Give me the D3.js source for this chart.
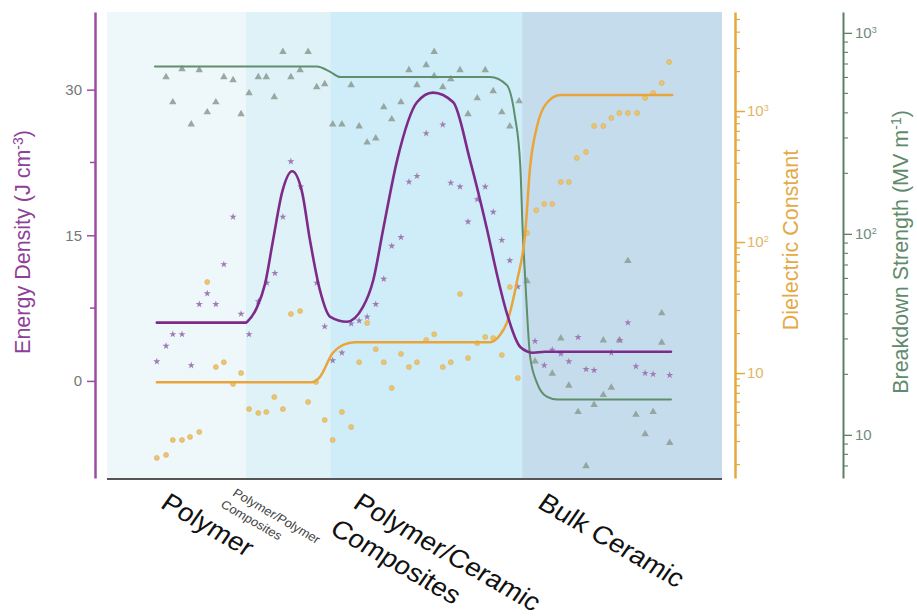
<!DOCTYPE html>
<html>
<head>
<meta charset="utf-8">
<script src="https://cdn.jsdelivr.net/npm/d3@7/dist/d3.min.js"></script>
<style>
  html, body { margin: 0; padding: 0; background: #ffffff; }
  svg { display: block; font-family: "Liberation Sans", Arial, sans-serif; }
</style>
</head>
<body>
<svg id="chart" width="917" height="616"></svg>
<script>
// ---------------- DATA ----------------
// material classes along the (arbitrary) composition axis 0..100
const regions = [
  { name: "Polymer", start: 0, end: 22.6 },
  { name: "Polymer/Polymer Composites", start: 22.6, end: 36.3 },
  { name: "Polymer/Ceramic Composites", start: 36.3, end: 67.5 },
  { name: "Bulk Ceramic", start: 67.5, end: 100 }
];
const regionLabelLines = [["Polymer"], ["Polymer/Polymer", "Composites"], ["Polymer/Ceramic", "Composites"], ["Bulk Ceramic"]];

// axis ticks
const energyTicks = [0, 15, 30];
const energyMinorTicks = [7.5, 22.5];
const dielectricTicks = [10, 100, 1000];
const breakdownTicks = [10, 100, 1000];

// energy density scatter (J cm^-3)
const energyX = [8.1, 9.6, 10.7, 12.2, 13.7, 15.0, 16.3, 17.7, 19.0, 20.5, 21.8, 23.1, 24.6, 26.0, 27.3, 28.6, 29.9, 31.5, 34.1, 35.4, 36.7, 38.2, 39.7, 41.0, 42.3, 43.7, 45.0, 46.3, 47.8, 49.1, 50.4, 51.9, 54.6, 55.9, 57.4, 58.7, 60.2, 61.5, 62.8, 64.2, 65.5, 66.8, 69.6, 71.1, 72.4, 73.8, 75.1, 76.6, 77.9, 79.2, 82.0, 83.4, 84.7, 86.0, 87.5, 88.8, 91.5];
const energyY = [2.0, 3.6, 4.8, 4.8, 1.6, 7.9, 9.0, 7.9, 12.0, 16.9, 6.9, 4.8, 8.2, 10.1, 11.1, 16.9, 22.6, 20.0, 10.1, 5.6, 2.1, 2.9, 5.9, 6.2, 6.6, 7.9, 10.5, 13.9, 14.8, 20.5, 21.1, 25.5, 26.4, 20.4, 20.0, 16.4, 18.7, 20.0, 17.4, 14.5, 12.4, 9.7, 4.1, 1.6, 3.2, 2.8, 2.0, 4.5, 1.2, 1.1, 2.9, 4.2, 6.0, 1.5, 0.8, 0.7, 0.6];

// dielectric constant scatter
const dielectricX = [8.1, 9.6, 10.7, 12.2, 13.5, 15.0, 16.3, 17.7, 19.0, 20.5, 21.8, 23.1, 24.6, 25.9, 27.2, 28.6, 29.9, 31.4, 32.7, 34.0, 35.4, 36.7, 38.2, 39.7, 41.0, 42.3, 43.7, 45.0, 46.3, 47.8, 49.1, 50.4, 51.9, 53.2, 54.6, 55.9, 57.4, 58.7, 60.2, 61.5, 62.8, 64.2, 65.5, 66.8, 68.3, 69.8, 71.1, 72.4, 73.8, 75.1, 76.4, 77.9, 79.2, 80.7, 82.0, 83.3, 84.7, 86.2, 87.5, 88.8, 90.2, 91.4];
const dielectricY = [2.25, 2.37, 3.08, 3.08, 3.25, 3.55, 49.5, 11.1, 12.1, 8.24, 10.0, 5.31, 4.95, 5.04, 6.56, 5.31, 28.2, 29.7, 6.01, 8.53, 4.38, 3.08, 5.04, 3.87, 12.1, 24.1, 15.2, 12.1, 7.68, 14.0, 11.1, 12.1, 17.9, 19.8, 11.1, 12.1, 40.1, 13.0, 16.9, 18.8, 18.5, 13.7, 45.3, 9.16, 117, 175, 195, 195, 287, 287, 438, 486, 768, 768, 885, 966, 966, 966, 1257, 1372, 1637, 2366];

// breakdown strength scatter (MV m^-1)
const breakdownX = [9.6, 10.7, 12.2, 13.7, 15.0, 16.3, 17.7, 19.0, 20.5, 21.8, 23.1, 24.6, 25.9, 27.2, 28.6, 29.9, 31.4, 32.7, 34.1, 35.4, 36.7, 38.2, 39.7, 41.0, 42.3, 43.7, 45.0, 46.3, 47.8, 49.1, 50.4, 51.9, 53.2, 53.2, 54.6, 55.9, 57.4, 58.7, 60.2, 61.5, 62.8, 64.2, 65.5, 67.0, 68.3, 69.6, 72.4, 73.8, 75.1, 76.6, 77.9, 79.2, 80.7, 80.7, 82.0, 83.3, 84.7, 86.0, 87.5, 88.8, 90.2, 90.2, 91.5];
const breakdownY = [603, 452, 661, 351, 653, 403, 452, 603, 582, 394, 501, 603, 603, 479, 804, 603, 653, 804, 537, 556, 351, 351, 550, 343, 285, 299, 427, 372, 452, 653, 550, 692, 804, 610, 537, 589, 653, 394, 473, 653, 513, 403, 343, 457, 58.2, 23.2, 20.2, 30.2, 17.6, 13.0, 7.0, 14.1, 29.5, 15.8, 17.2, 29.5, 73.3, 12.6, 10.1, 13.0, 40.3, 28.8, 9.12];

// trend curves
const energyFitX = [8.1, 22.6, 22.8, 24.4, 25.7, 27.0, 28.5, 30.1, 31.7, 33.0, 34.6, 36.3, 39.0, 41.6, 43.3, 44.9, 47.2, 50.4, 53.0, 56.3, 59.0, 61.8, 63.4, 65.0, 67.2, 69.3, 71.2, 91.7];
const energyFitY = [6.0, 6.0, 6.1, 7.6, 10.0, 14.5, 19.5, 21.6, 19.5, 14.5, 9.4, 6.6, 6.1, 7.6, 10.4, 15.6, 22.8, 28.7, 29.7, 28.7, 22.8, 15.6, 11.0, 7.0, 3.5, 2.9, 3.0, 3.0];
const dielectricFitX = [8.1, 33.3, 34.6, 36.7, 38.4, 40.3, 62.3, 63.9, 65.0, 66.7, 68.0, 68.8, 69.9, 71.5, 73.7, 91.9];
const dielectricFitY = [8.5, 8.5, 9.3, 14.2, 16.4, 17.2, 17.2, 19.5, 24.1, 51, 117, 374, 755, 1151, 1324, 1324];
const breakdownFitX = [7.8, 34.1, 36.3, 37.9, 62.3, 65.0, 66.3, 67.2, 67.6, 68.0, 68.8, 69.9, 71.5, 73.2, 91.7];
const breakdownFitY = [680, 680, 640, 603, 603, 550, 389, 219, 102, 60, 24.5, 18.2, 15.5, 15.0, 15.0];

// ---------------- LAYOUT ----------------
const L = 107, R = 722, T = 12, B = 478;
const regionColors = ["#eef8fa", "#def2f8", "#ceedf8", "#c4dcec"];
const labelOffsets = [8.5, -2.3, 3.5, 2.3];
const labelSmall = [false, true, false, false];
const PURPLE_AX = "#9a4ca2", PURPLE_LN = "#7d2a88", PURPLE_PT = "#a07ab4";
const ORANGE_AX = "#e3a93c", ORANGE_LN = "#e9a53c", ORANGE_PT = "#ecc36e";
const GREEN_AX = "#5c7f67", GREEN_LN = "#5e8e6c", GREEN_PT = "#909e97";

const svg = d3.select("#chart");
const x = d3.scaleLinear().domain([0, 100]).range([L, R]);
const yE = d3.scaleLinear().domain([-10, 38]).range([B, T]);
const yD = d3.scaleLog().domain([1.58, 5700]).range([B, T]);
const yB = d3.scaleLog().domain([6.1, 1270]).range([B, T]);

// region backgrounds
svg.append("g").selectAll("rect").data(regions).join("rect")
  .attr("x", d => x(d.start)).attr("y", T)
  .attr("width", d => x(d.end) - x(d.start)).attr("height", B - T)
  .attr("fill", (d, i) => regionColors[i]);

// bottom axis line
svg.append("line").attr("x1", L).attr("x2", R).attr("y1", B + 1).attr("y2", B + 1)
  .attr("stroke", "#555").attr("stroke-width", 2);

// region labels (slightly stretched horizontally, as in the source figure)
regions.forEach((r, i) => {
  const small = labelSmall[i];
  const fs = small ? 12 : 25.5;
  const ax = x(r.start + labelOffsets[i]);
  const ay = small ? 495 : 507;
  const t = svg.append("text")
    .attr("transform", `translate(${ax},${ay}) scale(1.1,1) rotate(32.5)`)
    .attr("font-size", fs).attr("fill", small ? "#444" : "#111");
  regionLabelLines[i].forEach((line, j) => {
    t.append("tspan").attr("x", j === 0 ? 0 : (small ? -3 : -4)).attr("dy", j === 0 ? 0 : fs * 1.3).text(line);
  });
});

// ---- left axis: energy density
const gE = svg.append("g").attr("transform", "translate(95,0)");
gE.call(d3.axisLeft(yE).tickValues(energyTicks).tickSize(8).tickSizeOuter(0).tickPadding(5));
gE.select(".domain").attr("stroke", PURPLE_AX).attr("stroke-width", 2.5);
gE.selectAll(".tick line").attr("stroke", PURPLE_AX).attr("stroke-width", 1.5);
gE.selectAll(".tick text").attr("font-size", 15).attr("fill", "#777").attr("font-family", "Liberation Sans, Arial, sans-serif");
gE.selectAll(".minor").data(energyMinorTicks).join("line")
  .attr("x1", -5).attr("x2", 0).attr("y1", d => yE(d)).attr("y2", d => yE(d))
  .attr("stroke", PURPLE_AX).attr("stroke-width", 1.5);

// log-axis helpers
function minorLogTicks(scale) {
  const [a, b] = scale.domain();
  const out = [];
  for (let e = Math.floor(Math.log10(a)); e <= Math.ceil(Math.log10(b)); e++) {
    for (let m = 2; m <= 9; m++) {
      const v = m * Math.pow(10, e);
      if (v >= a && v <= b) out.push(v);
    }
  }
  return out;
}
function powLabel(sel, col) {
  sel.each(function(d) {
    const t = d3.select(this);
    t.text(null);
    const e = Math.round(Math.log10(d));
    t.append("tspan").text("10");
    if (e > 1) t.append("tspan").attr("dy", "-0.55em").attr("font-size", "0.6em").text(e);
  }).attr("fill", col).attr("font-size", 15).attr("font-family", "Liberation Sans, Arial, sans-serif");
}

// ---- dielectric axis
const gD = svg.append("g").attr("transform", "translate(735,0)");
gD.call(d3.axisRight(yD).tickValues(dielectricTicks).tickSize(10).tickSizeOuter(0).tickPadding(2).tickFormat(() => ""));
gD.select(".domain").attr("stroke", ORANGE_AX).attr("stroke-width", 2.5);
gD.selectAll(".tick line").attr("stroke", ORANGE_AX).attr("stroke-width", 1.5);
powLabel(gD.selectAll(".tick text"), "#e2b566");
gD.selectAll(".minor").data(minorLogTicks(yD)).join("line")
  .attr("x1", 0).attr("x2", 5).attr("y1", d => yD(d)).attr("y2", d => yD(d))
  .attr("stroke", ORANGE_AX).attr("stroke-width", 1.2);

// ---- breakdown axis
const gB = svg.append("g").attr("transform", "translate(843,0)");
gB.call(d3.axisRight(yB).tickValues(breakdownTicks).tickSize(9).tickSizeOuter(0).tickPadding(3).tickFormat(() => ""));
gB.select(".domain").attr("stroke", GREEN_AX).attr("stroke-width", 2);
gB.selectAll(".tick line").attr("stroke", GREEN_AX).attr("stroke-width", 1.3);
powLabel(gB.selectAll(".tick text"), "#6f8c78");
gB.selectAll(".minor").data(minorLogTicks(yB)).join("line")
  .attr("x1", 0).attr("x2", 5).attr("y1", d => yB(d)).attr("y2", d => yB(d))
  .attr("stroke", GREEN_AX).attr("stroke-width", 1.1);

// ---- axis titles
function title(xp, yp, col, parts) {
  const t = svg.append("text").attr("transform", `translate(${xp},${yp}) rotate(-90)`)
    .attr("text-anchor", "middle").attr("font-size", 21.5).attr("fill", col);
  parts.forEach(p => {
    const s = t.append("tspan").text(p[0]);
    if (p[1] === "sup") s.attr("dy", "-0.5em").attr("font-size", "0.65em");
    if (p[1] === "down") s.attr("dy", "0.33em");
  });
}
title(30, 242, "#8e3f98", [["Energy Density (J cm"], ["-3", "sup"], [")", "down"]]);
title(798, 240, "#e3aa45", [["Dielectric Constant"]]);
title(908, 252, "#5f8a6b", [["Breakdown Strength (MV m"], ["-1", "sup"], [")", "down"]]);

// ---- scatter points
const gPts = svg.append("g");
gPts.selectAll(".tri").data(breakdownX.map((v, i) => [v, breakdownY[i]])).join("path")
  .attr("d", d3.symbol(d3.symbolTriangle, 24))
  .attr("transform", d => `translate(${x(d[0])},${yB(d[1])})`)
  .attr("fill", GREEN_PT).attr("opacity", 0.9);
gPts.selectAll(".dot").data(dielectricX.map((v, i) => [v, dielectricY[i]])).join("circle")
  .attr("cx", d => x(d[0])).attr("cy", d => yD(d[1])).attr("r", 2.5)
  .attr("fill", ORANGE_PT).attr("stroke", "#d9b060").attr("stroke-width", 0.6);
gPts.selectAll(".star").data(energyX.map((v, i) => [v, energyY[i]])).join("path")
  .attr("d", d3.symbol(d3.symbolStar, 16))
  .attr("transform", d => `translate(${x(d[0])},${yE(d[1])})`)
  .attr("fill", PURPLE_PT);

// ---- trend curves
function curve(xs, ys, ys_scale, col, w) {
  const line = d3.line().x(d => x(d[0])).y(d => ys_scale(d[1])).curve(d3.curveMonotoneX);
  svg.append("path").datum(xs.map((v, i) => [v, ys[i]]))
    .attr("d", line).attr("fill", "none").attr("stroke", col).attr("stroke-width", w)
    .attr("stroke-linejoin", "round").attr("stroke-linecap", "round");
}
curve(breakdownFitX, breakdownFitY, yB, GREEN_LN, 2);
curve(dielectricFitX, dielectricFitY, yD, ORANGE_LN, 2.5);
curve(energyFitX, energyFitY, yE, PURPLE_LN, 2.6);
</script>
</body>
</html>
